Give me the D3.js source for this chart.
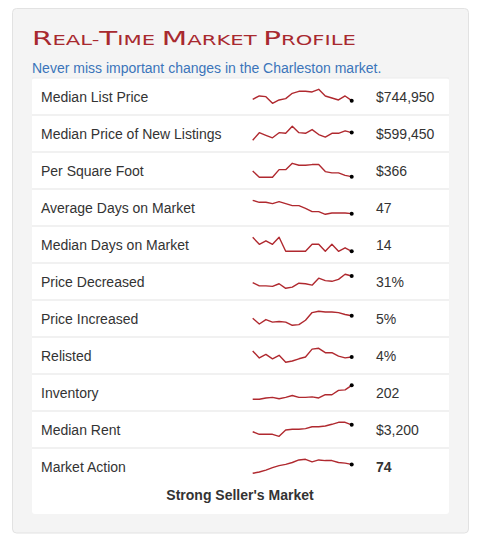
<!DOCTYPE html>
<html lang="en">
<head>
  <meta charset="UTF-8">
  <style>
    body { margin: 0; background: #fff; }
    svg { display: block; }
    .label, .value, .footer { font-family: "Liberation Sans", Arial, sans-serif; font-size: 14px; fill: #333; }
    .footer { font-weight: bold; }
    .spark { fill: none; stroke: #b0292f; stroke-width: 1.4; stroke-linejoin: round; }
  </style>
</head>
<body>
  <script src="https://d3js.org/d3.v7.min.js"></script>
  <svg></svg>
  <script>

// row names and the current values shown on the right
const metrics = ["Median List Price", "Median Price of New Listings", "Per Square Foot",
  "Average Days on Market", "Median Days on Market", "Price Decreased", "Price Increased",
  "Relisted", "Inventory", "Median Rent", "Market Action"];
const current = ["$744,950", "$599,450", "$366", "47", "14", "31%", "5%", "4%", "202", "$3,200", "74"];

// trend history for each row (estimated from the sparklines)
const listPrice   = [755000, 780000, 775000, 725000, 750000, 760000, 800000, 815000, 815000, 810000, 830000, 780000, 765000, 750000, 780000, 744950];
const newListings = [550000, 599000, 582000, 566000, 599000, 595000, 640000, 599000, 595000, 619000, 587000, 571000, 595000, 595000, 611000, 599450];
const perSqft     = [375, 365, 365, 365, 377, 377, 387, 384, 384, 385, 385, 374, 372, 372, 368, 366];
const avgDays     = [67, 64, 64, 62, 65, 62, 59, 59, 55, 50, 50, 46, 48, 48, 48, 47];
const medianDays  = [18, 16, 17, 16, 18, 14, 14, 14, 14, 16, 16, 14, 16, 14, 15, 14];
const decreased   = [27.3, 25.4, 25.4, 25.1, 26.6, 24, 24.7, 26.9, 26.6, 25.8, 29.8, 28.4, 28, 29.1, 32, 31];
const increased   = [4.6, 3.7, 4.4, 4.0, 4.1, 4.0, 3.5, 3.6, 4.3, 5.5, 5.7, 5.6, 5.6, 5.5, 5.2, 5.0];
const relisted    = [4.7, 3.9, 4.3, 3.8, 4.2, 3.4, 3.55, 3.8, 4.0, 4.9, 5.0, 4.5, 4.5, 4.1, 3.9, 4.0];
const inventory   = [150, 150, 155, 157, 152, 157, 164, 157, 157, 159, 155, 167, 167, 183, 185, 202];
const medianRent  = [2960, 2870, 2870, 2870, 2800, 3020, 3045, 3045, 3070, 3135, 3135, 3160, 3220, 3290, 3290, 3200];
const marketAction = [60, 62, 65, 69, 72, 74, 77, 81, 82, 78, 81, 80, 80, 77, 76, 74];

const series = [listPrice, newListings, perSqft, avgDays, medianDays, decreased,
  increased, relisted, inventory, medianRent, marketAction];

const w = 477, h = 544;
const svg = d3.select("svg").attr("width", w).attr("height", h);

// outer grey panel
svg.append("rect")
   .attr("x", 12.5).attr("y", 8.5).attr("width", 456).attr("height", 524.5)
   .attr("rx", 4).attr("fill", "#f4f4f4").attr("stroke", "#e2e2e2");

// title in small caps, stretched wide like the copperplate face
const titleG = svg.append("g");
const title = titleG.append("text")
   .attr("x", 0).attr("y", 0)
   .style("font-family", "'DejaVu Sans', sans-serif")
   .style("fill", "#a8292f");
[["R", 19.5], ["EAL-", 14], ["T", 19.5], ["IME ", 14], ["M", 19.5], ["ARKET ", 14], ["P", 19.5], ["ROFILE", 14]]
  .forEach(([t, s]) => title.append("tspan").style("font-size", s + "px").text(t));
const tw = title.node().getComputedTextLength();
titleG.attr("transform", `translate(32, 44.5) scale(${324 / tw}, 1)`);

svg.append("text")
   .attr("x", 32).attr("y", 72.5)
   .style("font-family", "'Liberation Sans', Arial, sans-serif")
   .style("font-size", "14px")
   .style("fill", "#3b74ba")
   .text("Never miss important changes in the Charleston market.");

// white table
svg.append("rect")
   .attr("x", 32).attr("y", 78).attr("width", 417).attr("height", 436)
   .attr("rx", 3).attr("fill", "#fff");
svg.append("line")
   .attr("x1", 32).attr("x2", 449).attr("y1", 78).attr("y2", 78)
   .attr("stroke", "#ececec").attr("stroke-width", 1);

const yRow = d3.scaleBand().domain(metrics).range([78, 78 + 37 * metrics.length]);
const xSpark = d3.scaleLinear().domain([0, listPrice.length - 1]).range([252.7, 351.7]);

const rows = svg.selectAll("g.row")
   .data(metrics)
   .enter()
   .append("g")
   .attr("class", "row")
   .attr("transform", d => `translate(0, ${yRow(d)})`);

rows.filter((d, i) => i > 0)
   .append("line")
   .attr("x1", 32).attr("x2", 449).attr("y1", 0).attr("y2", 0)
   .attr("stroke", "#ececec").attr("stroke-width", 1.6);

rows.append("text")
   .attr("class", "label")
   .attr("x", 41).attr("y", 23.5)
   .text(d => d);

rows.append("text")
   .attr("class", "value")
   .attr("x", 376).attr("y", 23.5)
   .style("font-weight", (d, i) => i === metrics.length - 1 ? "bold" : null)
   .text((d, i) => current[i]);

rows.each(function(d, i) {
  const s = series[i];
  const ySpark = d3.scaleLinear().domain(d3.extent(s)).range([25.3, 11.3]);
  const line = d3.line().x((v, j) => xSpark(j)).y(v => ySpark(v));
  const g = d3.select(this);
  g.append("path").attr("class", "spark").attr("d", line(s));
  g.append("circle")
   .attr("cx", xSpark(s.length - 1)).attr("cy", ySpark(s[s.length - 1]))
   .attr("r", 2).attr("fill", "#000");
});

svg.append("text")
   .attr("class", "footer")
   .attr("x", 240).attr("y", 499.5)
   .attr("text-anchor", "middle")
   .text("Strong Seller's Market");

  </script>
</body>
</html>
